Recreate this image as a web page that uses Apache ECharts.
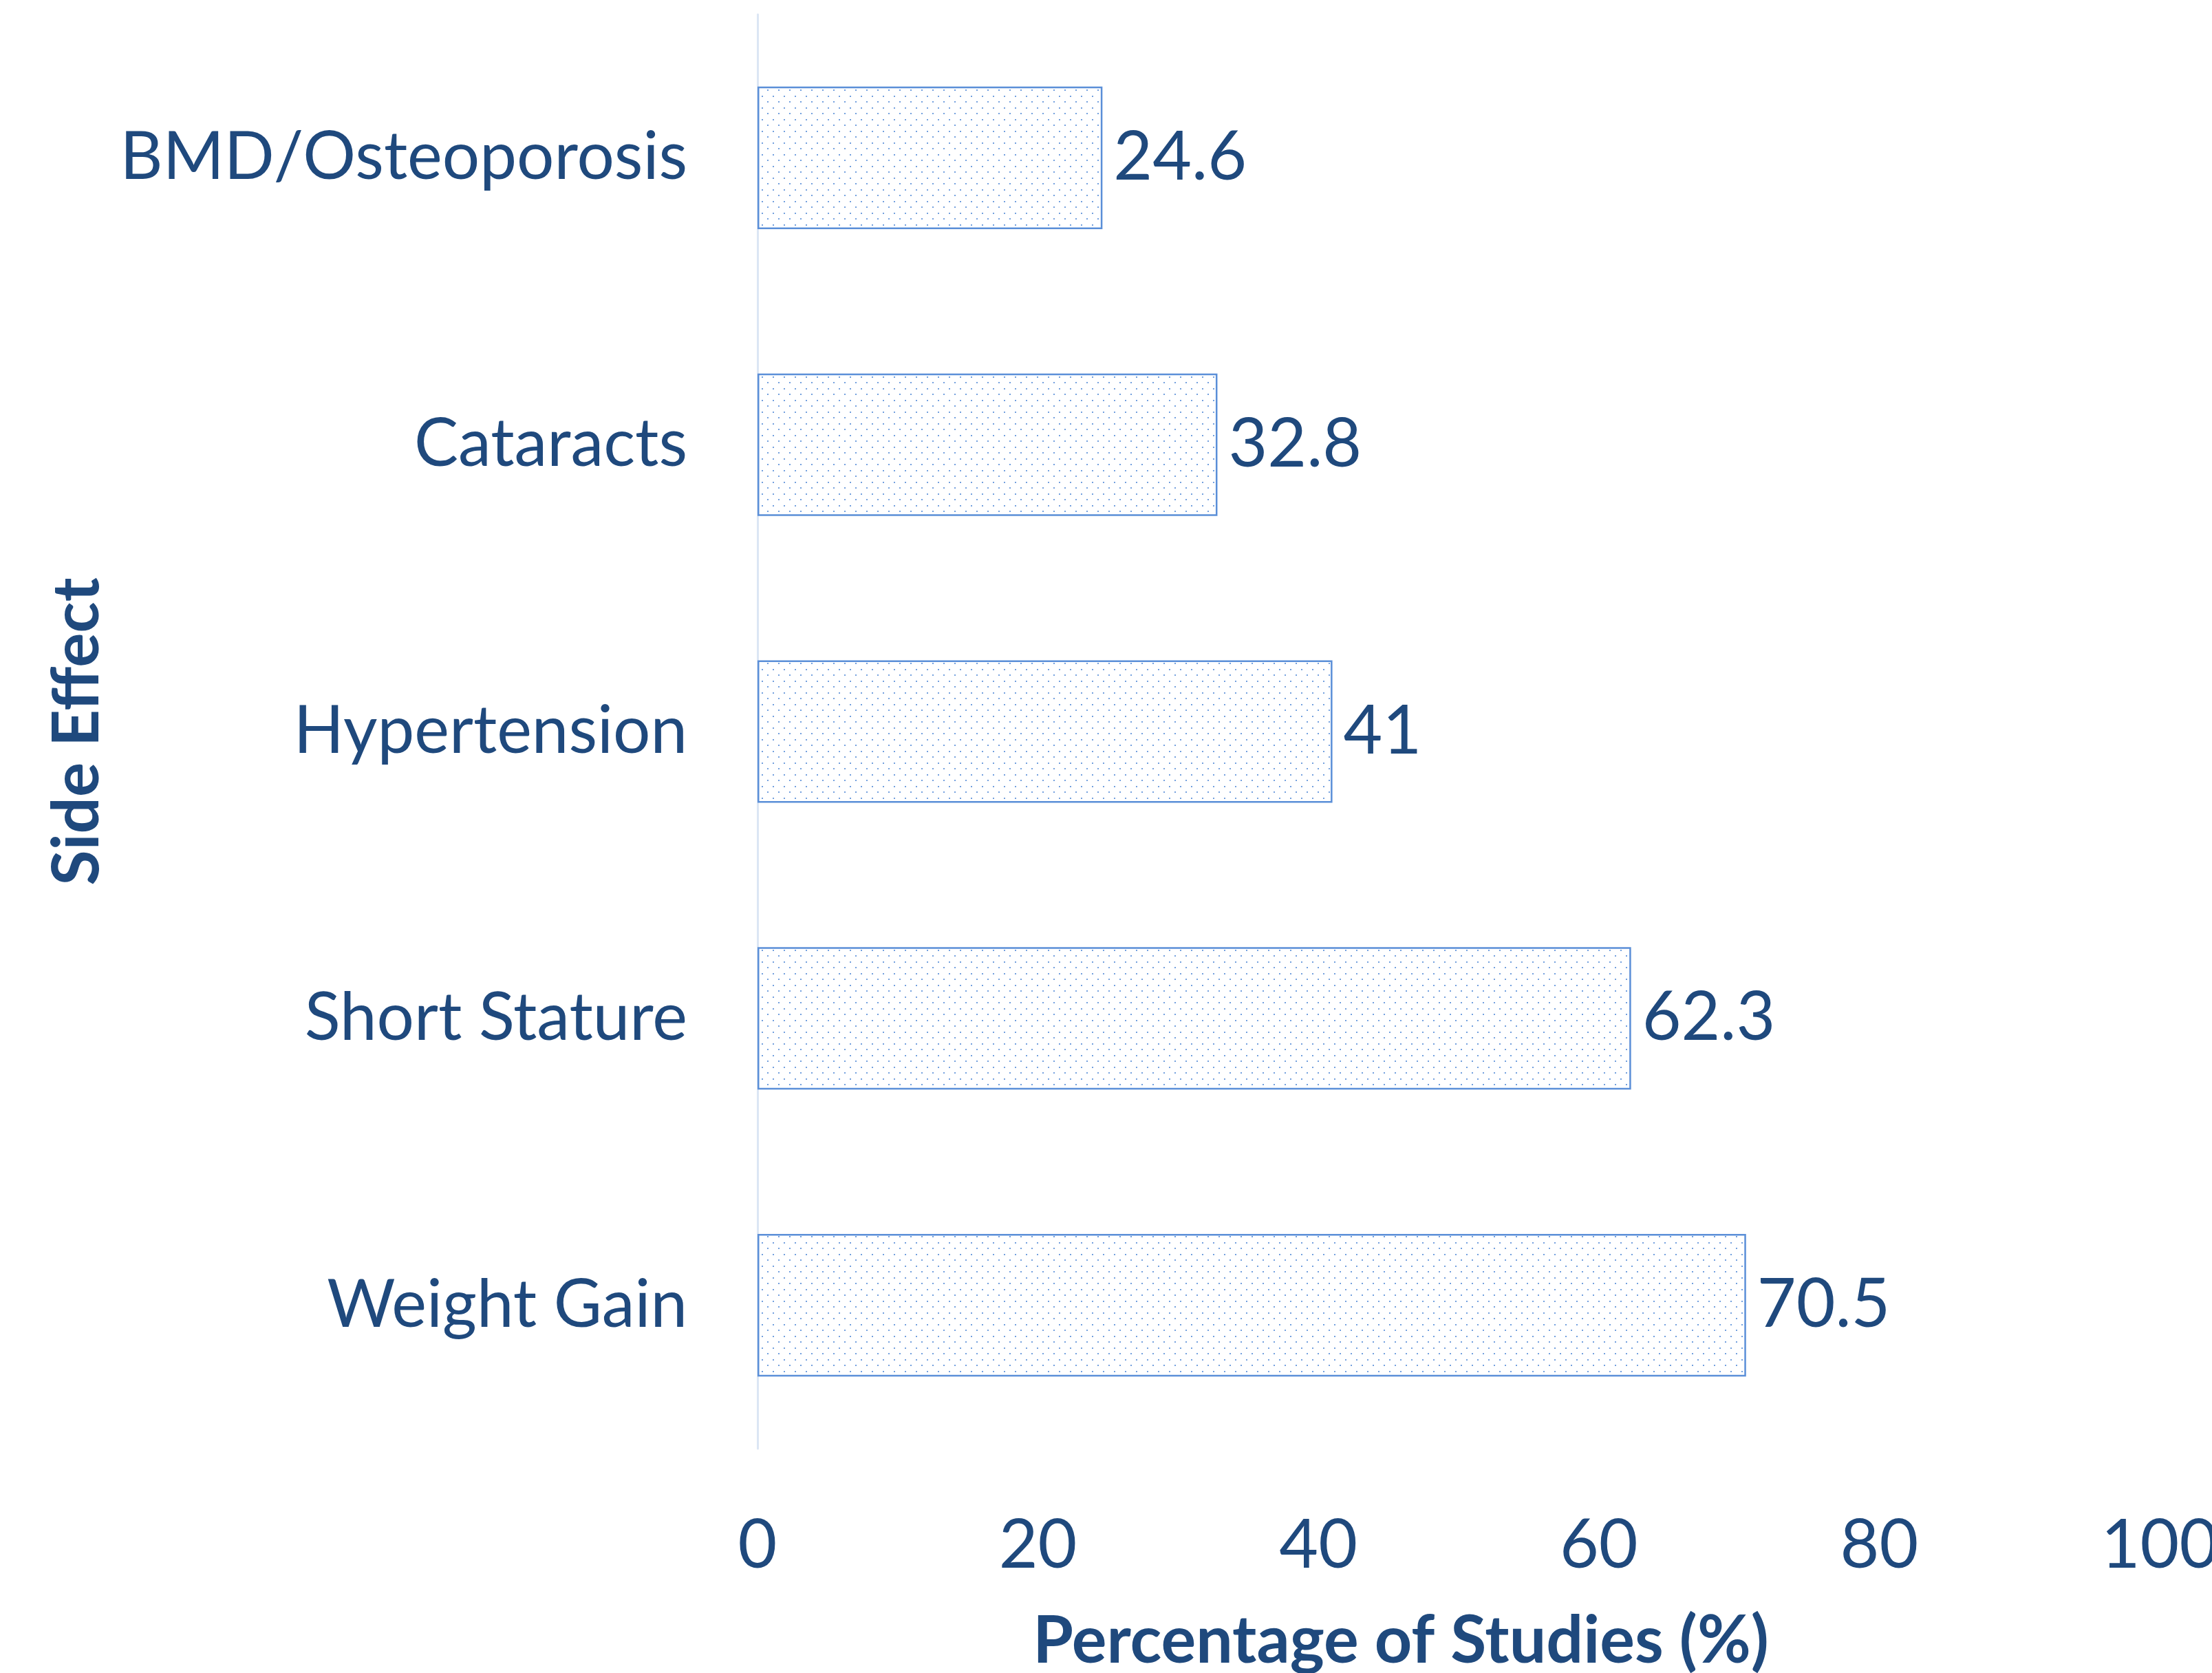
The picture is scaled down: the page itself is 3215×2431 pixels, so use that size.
<!DOCTYPE html>
<html>
<head>
<meta charset="utf-8">
<script src="https://cdn.jsdelivr.net/npm/echarts@6/dist/echarts.min.js"></script>
<style>
  html, body { margin: 0; padding: 0; background: #fff; }
  #main { width: 3215px; height: 2431px; }
</style>
</head>
<body>
<div id="main"></div>
<script>
var sideEffects = ['BMD/Osteoporosis', 'Cataracts', 'Hypertension', 'Short Stature', 'Weight Gain'];
var percentages = [24.6, 32.8, 41, 62.3, 70.5];
var xTicks = [0, 20, 40, 60, 80, 100];

var textColor = '#1f497d';
var barBlue = '#5b8fd8';
var fontName = 'Lato';

// dotted fill like the office "5%" pattern
var tile = document.createElement('canvas');
tile.width = 16;
tile.height = 17;
var ctx = tile.getContext('2d');
ctx.fillStyle = '#ffffff';
ctx.fillRect(0, 0, 16, 17);
ctx.fillStyle = 'rgba(91,143,216,0.85)';
ctx.fillRect(3, 3, 2, 2);
ctx.fillRect(11, 11, 2, 2);

var myChart = echarts.init(document.getElementById('main'));
myChart.setOption({
    backgroundColor: '#ffffff',
    animation: false,
    grid: {
        left: 1101,
        right: 76,
        top: 21,
        bottom: 326,
        containLabel: false,
        outerBoundsMode: 'none'
    },
    xAxis: {
        type: 'value',
        min: 0,
        max: 100,
        interval: 20,
        name: 'Percentage of Studies (%)',
        nameLocation: 'middle',
        nameGap: 233,
        nameTextStyle: {
            color: textColor,
            fontFamily: fontName,
            fontWeight: 'bold',
            fontSize: 95,
            padding: [0, 168, 0, 0]
        },
        axisLine: { show: false },
        axisTick: { show: false },
        splitLine: { show: false },
        axisLabel: {
            color: textColor,
            fontFamily: fontName,
            fontSize: 98,
            margin: 92,
            formatter: function(v) {
                return xTicks.indexOf(v) >= 0 ? String(v) : '';
            }
        }
    },
    yAxis: {
        type: 'category',
        inverse: true,
        data: sideEffects,
        name: 'Side Effect',
        nameLocation: 'middle',
        nameRotate: 90,
        nameGap: 941,
        nameTextStyle: {
            color: textColor,
            fontFamily: fontName,
            fontWeight: 'bold',
            fontSize: 94
        },
        axisLine: { show: true, lineStyle: { color: '#dce6f4', width: 3 } },
        axisTick: { show: false },
        splitLine: { show: false },
        axisLabel: {
            color: textColor,
            fontFamily: fontName,
            fontSize: 96,
            margin: 102
        }
    },
    series: [{
        type: 'bar',
        data: percentages,
        barWidth: '49.7%',
        itemStyle: {
            color: { image: tile, repeat: 'repeat' },
            borderColor: barBlue,
            borderWidth: 2.5
        },
        label: {
            show: true,
            position: 'right',
            distance: 16,
            color: textColor,
            fontFamily: fontName,
            fontSize: 98
        }
    }]
});
</script>
</body>
</html>
